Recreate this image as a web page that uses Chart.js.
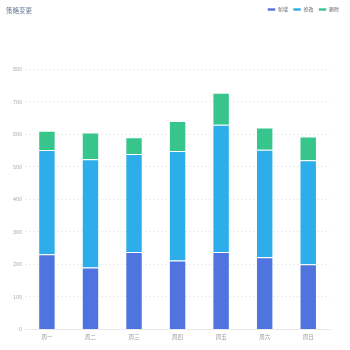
<!DOCTYPE html>
<html>
<head>
<meta charset="utf-8">
<script src="https://cdn.jsdelivr.net/npm/chart.js"></script>
<style>
  body { margin: 0; background: #fff; }
  #wrap { position: relative; width: 350px; height: 350px; }
  #title { position: absolute; left: 6px; top: 5px; font: 6.5px "Noto Sans CJK SC", sans-serif; color: #6a7a98; }
</style>
</head>
<body>
<div id="wrap">
  <div id="title">策略变更</div>
  <canvas id="myChart" width="350" height="350"></canvas>
</div>
<script>
// Chart data
var categories = ["周一", "周二", "周三", "周四", "周五", "周六", "周日"];
var addedValues = [231, 190, 238, 212, 238, 222, 200];
var changedValues = [320, 333, 301, 336, 391, 330, 320];
var deletedValues = [59, 82, 51, 92, 98, 68, 73];
var yTicks = [0, 100, 200, 300, 400, 500, 600, 700, 800];

var cjk = '"Noto Sans CJK SC", sans-serif';

// push the plot area down below the legend, and the legend to the right
var legendGap = {
    id: 'legendGap',
    beforeInit: function(chart) {
        var fit = chart.legend.fit;
        chart.legend.fit = function() {
            fit.bind(chart.legend)();
            this.height += 47;
        };
    },
    afterLayout: function(chart) {
        chart.legend.left += 14;
        chart.legend.right += 14;
    }
};

var ctx = document.getElementById('myChart').getContext('2d');
var chart = new Chart(ctx, {
    type: 'bar',
    data: {
        labels: categories,
        datasets: [{
            label: "新增",
            data: addedValues,
            backgroundColor: '#4f73df',
            borderColor: 'rgba(255,255,255,0.6)',
            borderWidth: 1
        }, {
            label: "修改",
            data: changedValues,
            backgroundColor: '#2dade9',
            borderColor: 'rgba(255,255,255,0.6)',
            borderWidth: 1
        }, {
            label: "删除",
            data: deletedValues,
            backgroundColor: '#37c58b',
            borderColor: 'rgba(255,255,255,0.6)',
            borderWidth: 1
        }]
    },
    plugins: [legendGap],
    options: {
        responsive: false,
        animation: false,
        layout: { padding: { left: 10, right: 20, top: 2, bottom: 6 } },
        datasets: { bar: { categoryPercentage: 1, barPercentage: 0.4 } },
        plugins: {
            legend: {
                position: 'top',
                align: 'end',
                labels: {
                    boxWidth: 8,
                    boxHeight: 3,
                    padding: 5,
                    color: '#666',
                    font: { size: 5, family: cjk }
                }
            },
            tooltip: { enabled: false }
        },
        scales: {
            x: {
                stacked: true,
                grid: { display: false, tickLength: 0 },
                border: { color: '#eaeaea' },
                ticks: { color: '#999', padding: 4, font: { size: 5.5, family: cjk } }
            },
            y: {
                stacked: true,
                min: 0,
                max: 800,
                afterBuildTicks: function(axis) {
                    axis.ticks = yTicks.map(function(v) { return { value: v }; });
                },
                grid: { color: '#ececec', tickLength: 0 },
                border: { display: false, dash: [2, 2] },
                ticks: { color: '#aaa', padding: 3, font: { size: 5.5, family: cjk } }
            }
        }
    }
});
</script>
</body>
</html>
